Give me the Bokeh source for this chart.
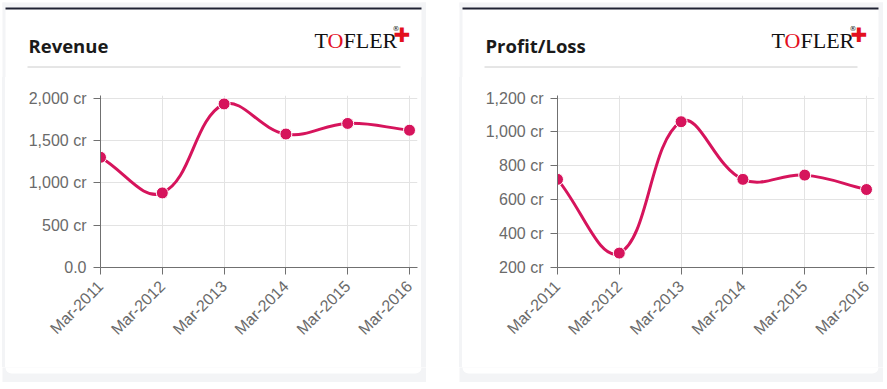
import math
from bokeh.plotting import figure
from bokeh.layouts import row, column
from bokeh.models import Range1d, FixedTicker, BoxAnnotation, Spacer
from bokeh.core.properties import value
from bokeh.embed import file_html
from bokeh.resources import INLINE

# ---------------- data ----------------
periods = ["Mar-2011", "Mar-2012", "Mar-2013", "Mar-2014", "Mar-2015", "Mar-2016"]
revenue = [1300, 880, 1930, 1575, 1700, 1620]
profit_loss = [720, 285, 1060, 720, 745, 660]

revenue_ticks = [0, 500, 1000, 1500, 2000]
revenue_tick_labels = ["0.0", "500 cr", "1,000 cr", "1,500 cr", "2,000 cr"]
profit_ticks = [200, 400, 600, 800, 1000, 1200]
profit_tick_labels = ["200 cr", "400 cr", "600 cr", "800 cr", "1,000 cr", "1,200 cr"]

titles = ["Revenue", "Profit/Loss"]

# ---------------- layout constants ----------------
PW = 424                     # panel width
HEAD_H, CHART_H, FOOT_H = 75, 290, 15
CARD_L, CARD_R = 3, 419      # card edges inside panel
CW = CARD_R - CARD_L         # chart figure width (416)
ML, MR, MT, MB = 95, 4, 18, 100
FW, FH = CW - ML - MR, CHART_H - MT - MB
LINE_COLOR = "#d6145c"
PANEL_BG = "#f3f4f6"


def spline_segments(xs, ys, sx, sy, ymin, ymax, t=0.4):
    """Chart.js-style smooth curve control points (computed in pixel space)."""
    P = [(x * sx, y * sy) for x, y in zip(xs, ys)]
    n = len(P)
    prev_cp, next_cp = [], []
    for i in range(n):
        p0 = P[i - 1] if i > 0 else P[i]
        p1 = P[i]
        p2 = P[i + 1] if i < n - 1 else P[i]
        d01 = math.hypot(p1[0] - p0[0], p1[1] - p0[1])
        d12 = math.hypot(p2[0] - p1[0], p2[1] - p1[1])
        tot = d01 + d12
        s01 = d01 / tot if tot else 0
        s12 = d12 / tot if tot else 0
        fa, fb = t * s01, t * s12
        prev_cp.append((p1[0] - fa * (p2[0] - p0[0]), p1[1] - fa * (p2[1] - p0[1])))
        next_cp.append((p1[0] + fb * (p2[0] - p0[0]), p1[1] + fb * (p2[1] - p0[1])))
    clamp = lambda v, lo, hi: max(lo, min(hi, v))
    seg = dict(x0=[], y0=[], x1=[], y1=[], cx0=[], cy0=[], cx1=[], cy1=[])
    for i in range(n - 1):
        seg["x0"].append(xs[i]); seg["y0"].append(ys[i])
        seg["x1"].append(xs[i + 1]); seg["y1"].append(ys[i + 1])
        seg["cx0"].append(clamp(next_cp[i][0] / sx, xs[0], xs[-1]))
        seg["cy0"].append(clamp(next_cp[i][1] / sy, ymin, ymax))
        seg["cx1"].append(clamp(prev_cp[i + 1][0] / sx, xs[0], xs[-1]))
        seg["cy1"].append(clamp(prev_cp[i + 1][1] / sy, ymin, ymax))
    return seg


def blank_fig(w, h, bg):
    """A figure whose frame is the whole canvas, with pixel ranges (y down)."""
    p = figure(width=w, height=h, output_backend="svg", toolbar_location=None,
               x_range=Range1d(0, w), y_range=Range1d(h, 0),
               min_border=0, min_border_left=0, min_border_right=0,
               min_border_top=0, min_border_bottom=0)
    p.axis.visible = False
    p.grid.visible = False
    p.title.visible = False
    p.outline_line_color = None
    p.border_fill_color = bg
    p.background_fill_color = bg
    return p


def make_header(title):
    p = blank_fig(PW, HEAD_H, "white")
    # gray panel margins around the white card
    p.quad(left=[-5, -5, CARD_R], right=[PW + 5, CARD_L, PW + 5],
           top=[-5, -5, -5], bottom=[5, HEAD_H + 10, HEAD_H + 10],
           fill_color=PANEL_BG, line_color=None)
    p.quad(left=[CARD_L], right=[CARD_R], top=[5], bottom=[7],
           fill_color="#1e2132", line_color=None)
    p.segment(x0=[25], y0=[64.5], x1=[398], y1=[64.5], line_color="#cccccc",
              line_width=1)
    p.text(x=[26], y=[43], text=[title], text_font=value("Open Sans"),
           text_font_style="bold", text_font_size="18.5px", text_color="#1a1a1a",
           text_baseline="alphabetic")
    p.text(x=[312, 325, 341], y=[38, 38, 38], text=["T", "O", "FLER"],
           text_font=value("Liberation Serif"), text_font_size="22px",
           text_color=["#111111", "#e3101e", "#111111"], text_baseline="alphabetic")
    p.text(x=[390], y=[26], text=["®"], text_font=value("DejaVu Sans"),
           text_font_size="7px", text_color="#111111", text_baseline="alphabetic")
    p.text(x=[391], y=[32], text=["✚"], text_font=value("DejaVu Sans"),
           text_font_size="20px", text_color="#e3101e", text_baseline="middle")
    return p


def make_footer():
    p = blank_fig(PW, FOOT_H, PANEL_BG)
    p.add_layout(BoxAnnotation(left=CARD_L, right=CARD_R, top=-10, bottom=6,
                               fill_color="white", fill_alpha=1, line_color=None,
                               border_radius=6))
    return p


def make_chart(ys, ticks, tick_labels):
    xs = list(range(len(periods)))
    x_end = (len(periods) - 1) * FW / 309.0
    y_start = ticks[0]
    y_end = ticks[0] + (ticks[-1] - ticks[0]) * FH / 169.5
    p = figure(width=CW, height=CHART_H, output_backend="svg", toolbar_location=None,
               x_range=Range1d(0, x_end), y_range=Range1d(y_start, y_end),
               min_border_left=ML, min_border_right=MR,
               min_border_top=MT, min_border_bottom=MB)
    p.title.visible = False
    p.border_fill_color = "white"
    p.background_fill_color = "white"
    p.outline_line_color = None

    p.xaxis.ticker = FixedTicker(ticks=xs)
    p.xaxis.major_label_overrides = {i: c for i, c in enumerate(periods)}
    p.xaxis.major_label_orientation = math.pi / 4
    p.yaxis.ticker = FixedTicker(ticks=ticks)
    p.yaxis.major_label_overrides = {tk: lb for tk, lb in zip(ticks, tick_labels)}
    for ax in (p.xaxis, p.yaxis):
        ax.axis_line_color = "#707070"
        ax.major_tick_line_color = "#707070"
        ax.major_tick_out = 7
        ax.major_tick_in = 0
        ax.minor_tick_line_color = None
        ax.major_label_text_font = "Liberation Sans"
        ax.major_label_text_font_size = "16px"
        ax.major_label_text_color = "#6a6a6a"
        ax.major_label_standoff = 7
    p.xaxis.major_label_standoff = 9
    p.xgrid.ticker = FixedTicker(ticks=xs)
    p.ygrid.ticker = FixedTicker(ticks=ticks)
    p.xgrid.grid_line_color = "#e3e3e3"
    p.ygrid.grid_line_color = "#e3e3e3"

    sx = FW / x_end
    sy = FH / (y_end - y_start)
    seg = spline_segments(xs, ys, sx, sy, ticks[0], ticks[-1])
    p.bezier(x0="x0", y0="y0", x1="x1", y1="y1", cx0="cx0", cy0="cy0",
             cx1="cx1", cy1="cy1", source=seg, line_color=LINE_COLOR, line_width=3)
    p.scatter(xs, ys, size=12, fill_color=LINE_COLOR, line_color="white",
              line_width=1)
    return p


def make_panel(title, ys, ticks, tick_labels):
    gray = {"background-color": PANEL_BG}
    middle = row(Spacer(width=CARD_L, height=CHART_H, styles=gray),
                 make_chart(ys, ticks, tick_labels),
                 Spacer(width=PW - CARD_R, height=CHART_H, styles=gray),
                 styles={"background-color": "white"})
    return column(make_header(title), middle, make_footer(),
                  styles={"background-color": "white"})


panel1 = make_panel(titles[0], revenue, revenue_ticks, revenue_tick_labels)
panel2 = make_panel(titles[1], profit_loss, profit_ticks, profit_tick_labels)

layout = row(panel1, panel2, spacing=33, styles={"margin-left": "2px", "margin-top": "2px"})

open("out.html", "w").write(file_html(layout, INLINE))
